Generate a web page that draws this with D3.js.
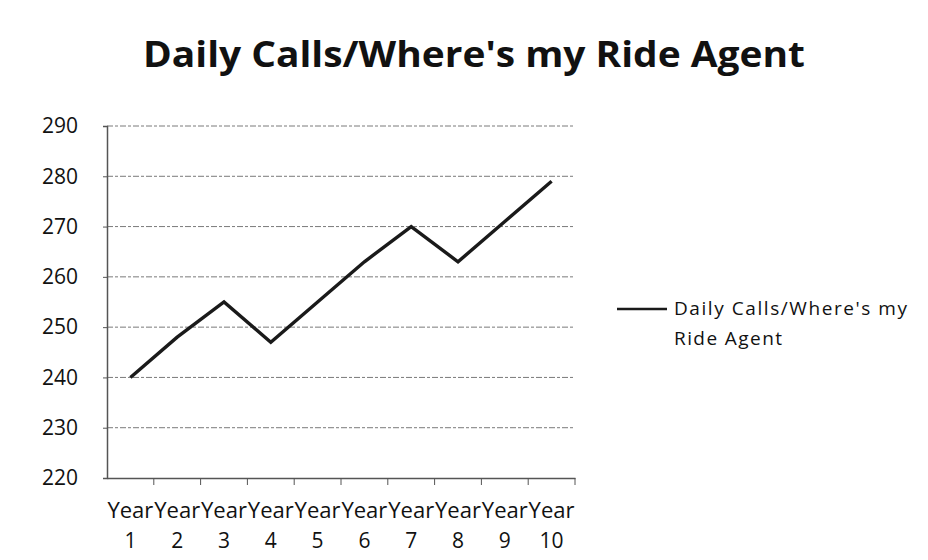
<!DOCTYPE html>
<html>
<head>
  <meta charset="utf-8">
  <script src="https://d3js.org/d3.v7.min.js"></script>
  <style>
    body { margin: 0; background: #fff; }
    text { font-family: "Open Sans", "Noto Sans", sans-serif; fill: #111; }
  </style>
</head>
<body>
<script>
  // chart data
  var years = ["Year 1", "Year 2", "Year 3", "Year 4", "Year 5", "Year 6", "Year 7", "Year 8", "Year 9", "Year 10"];
  var dailyCalls = [240, 248, 255, 247, 255, 263, 270, 263, 271, 279];
  var yTicks = [220, 230, 240, 250, 260, 270, 280, 290];
  var legendLines = ["Daily Calls/Where's my", "Ride Agent"];
  var chartTitle = "Daily Calls/Where's my Ride Agent";

  var width = 928, height = 560;
  var plot = {left: 107, right: 575, top: 126, bottom: 478};

  var svg = d3.select("body").append("svg")
      .attr("width", width)
      .attr("height", height);

  var x = d3.scaleBand()
      .domain(years)
      .range([plot.left, plot.right]);

  var y = d3.scaleLinear()
      .domain([220, 290])
      .range([plot.bottom, plot.top]);

  // title
  svg.append("text")
      .attr("x", 474)
      .attr("y", 67)
      .attr("text-anchor", "middle")
      .attr("textLength", 662)
      .attr("lengthAdjust", "spacingAndGlyphs")
      .style("font-size", "35px")
      .style("font-weight", "bold")
      .text(chartTitle);

  // gridlines
  svg.append("g")
    .selectAll("line")
    .data(yTicks.filter(function(d) { return d > 220; }))
    .join("line")
      .attr("x1", plot.left)
      .attr("x2", plot.right)
      .attr("y1", function(d) { return y(d); })
      .attr("y2", function(d) { return y(d); })
      .attr("stroke", "#7a7a7a")
      .attr("stroke-width", 1)
      .attr("stroke-dasharray", "6,2,3,2");

  // y axis
  var yAxis = svg.append("g")
      .attr("transform", "translate(" + plot.left + ",0)")
      .call(d3.axisLeft(y).tickValues(yTicks).tickSize(4).tickPadding(25));
  yAxis.select(".domain").attr("stroke", "#555").attr("stroke-width", 1.5);
  yAxis.selectAll(".tick line").attr("stroke", "#555");
  yAxis.selectAll("text")
      .style("font-size", "21px")
      .style("font-family", "'Open Sans', sans-serif")
      .attr("fill", "#111");

  // x axis
  var xAxis = svg.append("g")
      .attr("transform", "translate(0," + plot.bottom + ")")
      .call(d3.axisBottom(x).tickSize(0).tickFormat(""));
  xAxis.select(".domain").attr("stroke", "#555").attr("stroke-width", 1.5);

  // x ticks at category boundaries
  var bounds = years.map(function(d) { return x(d) + x.bandwidth(); });
  svg.append("g")
    .selectAll("line")
    .data(bounds)
    .join("line")
      .attr("x1", function(d) { return d; })
      .attr("x2", function(d) { return d; })
      .attr("y1", plot.bottom)
      .attr("y2", plot.bottom + 7)
      .attr("stroke", "#555");

  // x labels, two lines each
  var labels = svg.append("g")
    .selectAll("text")
    .data(years)
    .join("text")
      .attr("text-anchor", "middle")
      .style("font-size", "21px")
      .attr("transform", function(d) { return "translate(" + (x(d) + x.bandwidth() / 2) + ",0)"; });
  labels.append("tspan")
      .attr("x", 0)
      .attr("y", 518)
      .attr("textLength", 46)
      .attr("lengthAdjust", "spacingAndGlyphs")
      .text(function(d) { return d.split(" ")[0]; });
  labels.append("tspan")
      .attr("x", 0)
      .attr("y", 548)
      .text(function(d) { return d.split(" ")[1]; });

  // line
  var line = d3.line()
      .x(function(d, i) { return x(years[i]) + x.bandwidth() / 2; })
      .y(function(d) { return y(d); });

  svg.append("path")
      .datum(dailyCalls)
      .attr("fill", "none")
      .attr("stroke", "#1a1a1a")
      .attr("stroke-width", 3.4)
      .attr("stroke-linejoin", "miter")
      .attr("d", line);

  // legend
  var legend = svg.append("g");
  legend.append("line")
      .attr("x1", 617).attr("x2", 667)
      .attr("y1", 309).attr("y2", 309)
      .attr("stroke", "#1a1a1a")
      .attr("stroke-width", 2.5);
  var legendWidths = [233, 108];
  legend.selectAll("text")
    .data(legendLines)
    .join("text")
      .attr("x", 674)
      .attr("y", function(d, i) { return 315 + i * 30; })
      .attr("textLength", function(d, i) { return legendWidths[i]; })
      .attr("lengthAdjust", "spacing")
      .style("font-size", "19px")
      .text(function(d) { return d; });
</script>
</body>
</html>
